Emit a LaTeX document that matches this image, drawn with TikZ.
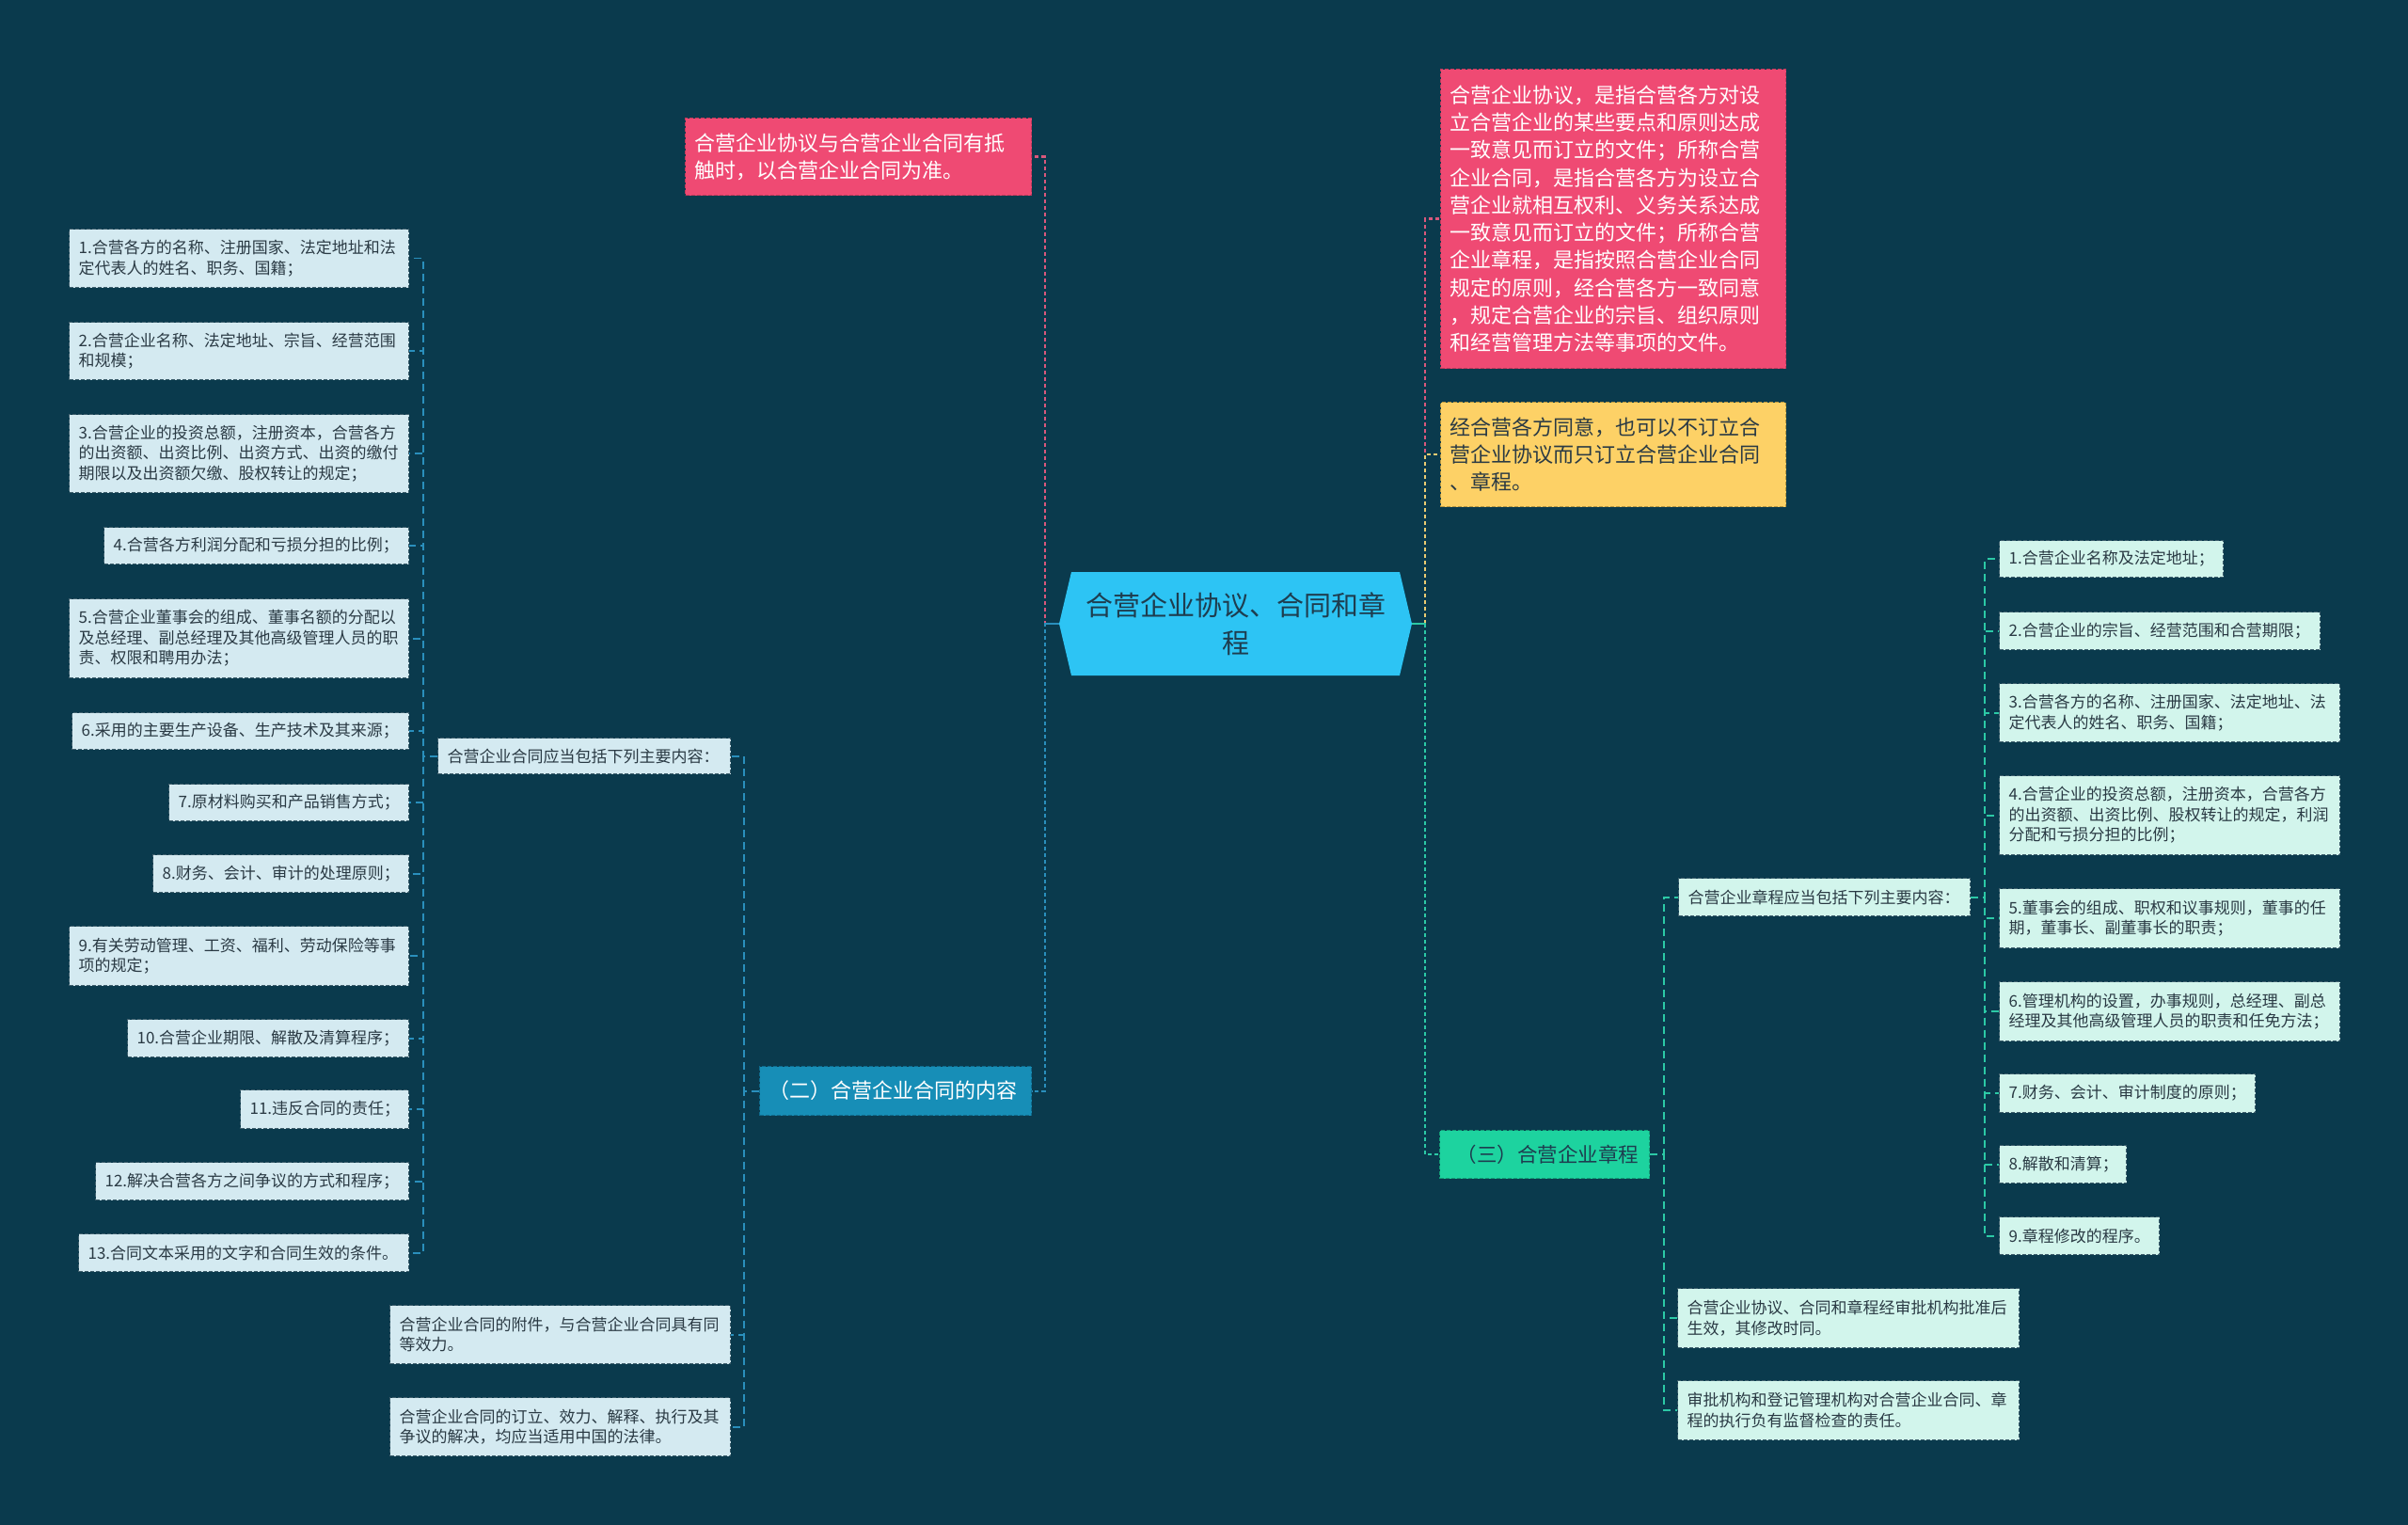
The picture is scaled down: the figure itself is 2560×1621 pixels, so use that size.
\documentclass[tikz,border=0pt]{standalone}
\usepackage{fontspec}
\setmainfont{Noto Sans CJK SC}
\definecolor{bgc}{HTML}{0A3A4D}
\definecolor{rootc}{HTML}{2DC4F4}
\definecolor{roottxt}{HTML}{1E3D4F}
\definecolor{pinkc}{HTML}{EF4A73}
\definecolor{pinkd}{HTML}{C23A5C}
\definecolor{pinkl}{HTML}{D9587C}
\definecolor{yelc}{HTML}{FDD166}
\definecolor{yeld}{HTML}{B8963E}
\definecolor{yell}{HTML}{EACB72}
\definecolor{bluec}{HTML}{178EB7}
\definecolor{blued}{HTML}{0F6A8C}
\definecolor{bluel}{HTML}{2A8FBC}
\definecolor{greenc}{HTML}{1DD39F}
\definecolor{greend}{HTML}{139C76}
\definecolor{greenl}{HTML}{2CC9A6}
\definecolor{leafL}{HTML}{D4EAF1}
\definecolor{leafR}{HTML}{D2F5EC}
\definecolor{leafd}{HTML}{3E5E6C}
\definecolor{leaftxt}{HTML}{2A3A44}
\tikzset{
  x=1pt, y=-1pt,
  basebox/.style={rectangle, inner xsep=10pt, inner ysep=0pt, align=left, dashed, dash pattern=on 4pt off 2pt, line width=1.2pt},
  pinkbox/.style={basebox, fill=pinkc, draw=pinkd, text=white, font=\fontsize{22}{29.3}\selectfont},
  yelbox/.style={basebox, fill=yelc, draw=yeld, text=leaftxt, font=\fontsize{22}{29.3}\selectfont},
  erbox/.style={basebox, fill=bluec, draw=blued, text=white, font=\fontsize{22}{26}\selectfont},
  sanbox/.style={basebox, fill=greenc, draw=greend, text=roottxt, font=\fontsize{21.5}{26}\selectfont},
  lbox/.style={basebox, fill=leafL, draw=leafd, text=leaftxt, font=\fontsize{17}{21.5}\selectfont},
  rbox/.style={basebox, fill=leafR, draw=leafd, text=leaftxt, font=\fontsize{17}{21.5}\selectfont},
  conn/.style={line width=2.2pt, dash pattern=on 4pt off 3pt},
  subconn/.style={line width=1.8pt, dash pattern=on 8pt off 5pt},
}
\newcommand\mkbox[7]{%
  \pgfmathsetmacro\bw{#5-#3}\pgfmathsetmacro\bh{#6-#4}\pgfmathsetmacro\tw{#5-#3-20}%
  \node[#1, anchor=north west, minimum width=\bw pt, minimum height=\bh pt, text width=\tw pt] (#2) at (#3,#4) {#7};}
\begin{document}
\begin{tikzpicture}
\useasboundingbox (0,0) rectangle (2560,1621);
\fill[bgc] (0,0) rectangle (2560,1621);

% root
\node[rectangle, minimum width=375pt, minimum height=110pt, inner sep=0pt, align=center,
  text=roottxt, font=\fontsize{29}{40}\selectfont,
  path picture={\fill[rootc] (path picture bounding box.west) -- ([xshift=13pt]path picture bounding box.north west) -- ([xshift=-13pt]path picture bounding box.north east) -- (path picture bounding box.east) -- ([xshift=-13pt]path picture bounding box.south east) -- ([xshift=13pt]path picture bounding box.south west) -- cycle;}]
  (root) at (1313.5,663) {合营企业协议、合同和章\\程};

% first level
\mkbox{pinkbox}{pl}{728}{125}{1096}{207}{合营企业协议与合营企业合同有抵\\触时，以合营企业合同为准。}
\mkbox{erbox}{er}{807}{1133}{1096}{1185}{（二）合营企业合同的内容}
\mkbox{pinkbox}{pr}{1531}{73}{1898}{391}{合营企业协议，是指合营各方对设\\立合营企业的某些要点和原则达成\\一致意见而订立的文件；所称合营\\企业合同，是指合营各方为设立合\\营企业就相互权利、义务关系达成\\一致意见而订立的文件；所称合营\\企业章程，是指按照合营企业合同\\规定的原则，经合营各方一致同意\\，规定合营企业的宗旨、组织原则\\和经营管理方法等事项的文件。}
\mkbox{yelbox}{yr}{1531}{427}{1898}{538}{经合营各方同意，也可以不订立合\\营企业协议而只订立合营企业合同\\、章程。}
\mkbox{sanbox}{san}{1530}{1201}{1753}{1252}{\hspace*{8pt}（三）合营企业章程}

% left second level
\mkbox{lbox}{mid}{465}{784}{776}{822}{合营企业合同应当包括下列主要内容：}
\mkbox{lbox}{la}{414}{1387}{776}{1449}{合营企业合同的附件，与合营企业合同具有同\\等效力。}
\mkbox{lbox}{lb}{414}{1485}{776}{1547}{合营企业合同的订立、效力、解释、执行及其\\争议的解决，均应当适用中国的法律。}

% left items
\mkbox{lbox}{l1}{73}{243}{434}{305}{1.合营各方的名称、注册国家、法定地址和法\\定代表人的姓名、职务、国籍；}
\mkbox{lbox}{l2}{73}{342}{434}{403}{2.合营企业名称、法定地址、宗旨、经营范围\\和规模；}
\mkbox{lbox}{l3}{73}{440}{434}{523}{3.合营企业的投资总额，注册资本，合营各方\\的出资额、出资比例、出资方式、出资的缴付\\期限以及出资额欠缴、股权转让的规定；}
\mkbox{lbox}{l4}{110}{560}{434}{599}{4.合营各方利润分配和亏损分担的比例；}
\mkbox{lbox}{l5}{73}{636}{434}{720}{5.合营企业董事会的组成、董事名额的分配以\\及总经理、副总经理及其他高级管理人员的职\\责、权限和聘用办法；}
\mkbox{lbox}{l6}{76}{757}{434}{796}{6.采用的主要生产设备、生产技术及其来源；}
\mkbox{lbox}{l7}{179}{833}{434}{872}{7.原材料购买和产品销售方式；}
\mkbox{lbox}{l8}{162}{908}{434}{948}{8.财务、会计、审计的处理原则；}
\mkbox{lbox}{l9}{73}{984}{434}{1047}{9.有关劳动管理、工资、福利、劳动保险等事\\项的规定；}
\mkbox{lbox}{l10}{135}{1083}{434}{1123}{10.合营企业期限、解散及清算程序；}
\mkbox{lbox}{l11}{255}{1158}{434}{1199}{11.违反合同的责任；}
\mkbox{lbox}{l12}{101}{1235}{434}{1275}{12.解决合营各方之间争议的方式和程序；}
\mkbox{lbox}{l13}{83}{1311}{434}{1351}{13.合同文本采用的文字和合同生效的条件。}

% right second level
\mkbox{rbox}{zc}{1784}{933}{2094}{973}{合营企业章程应当包括下列主要内容：}
\mkbox{rbox}{ra}{1783}{1369}{2146}{1432}{合营企业协议、合同和章程经审批机构批准后\\生效，其修改时同。}
\mkbox{rbox}{rb}{1783}{1467}{2146}{1530}{审批机构和登记管理机构对合营企业合同、章\\程的执行负有监督检查的责任。}

% right items
\mkbox{rbox}{r1}{2125}{574}{2363}{613}{1.合营企业名称及法定地址；}
\mkbox{rbox}{r2}{2125}{650}{2466}{690}{2.合营企业的宗旨、经营范围和合营期限；}
\mkbox{rbox}{r3}{2125}{726}{2487}{788}{3.合营各方的名称、注册国家、法定地址、法\\定代表人的姓名、职务、国籍；}
\mkbox{rbox}{r4}{2125}{824}{2487}{908}{4.合营企业的投资总额，注册资本，合营各方\\的出资额、出资比例、股权转让的规定，利润\\分配和亏损分担的比例；}
\mkbox{rbox}{r5}{2125}{944}{2487}{1007}{5.董事会的组成、职权和议事规则，董事的任\\期，董事长、副董事长的职责；}
\mkbox{rbox}{r6}{2125}{1043}{2487}{1106}{6.管理机构的设置，办事规则，总经理、副总\\经理及其他高级管理人员的职责和任免方法；}
\mkbox{rbox}{r7}{2125}{1141}{2397}{1182}{7.财务、会计、审计制度的原则；}
\mkbox{rbox}{r8}{2125}{1217}{2260}{1257}{8.解散和清算；}
\mkbox{rbox}{r9}{2125}{1293}{2295}{1333}{9.章程修改的程序。}

% connectors from root
\draw[conn, draw=pinkl] (root.west) -- ++(-15,0) |- (pl.east);
\draw[conn, draw=bluel] (root.west) -- ++(-15,0) |- (er.east);
\draw[conn, draw=pinkl] (root.east) -- ++(14,0) |- (pr.west);
\draw[conn, draw=yell] (root.east) -- ++(14,0) |- (yr.west);
\draw[conn, draw=greenl] (root.east) -- ++(14,0) |- (san.west);
\draw[line width=2.2pt, draw=bluel] (root.west) -- ++(-15,0);
\draw[line width=2.2pt, draw=greenl] (root.east) -- ++(14,0);

% left branch
\foreach \n in {mid,la,lb}
  \draw[subconn, draw=bluel] (er.west) -- ++(-16,0) |- (\n.east);
\foreach \n in {l1,l2,l3,l4,l5,l6,l7,l8,l9,l10,l11,l12,l13}
  \draw[subconn, draw=bluel] (mid.west) -- ++(-15,0) |- (\n.east);

% right branch
\foreach \n in {zc,ra,rb}
  \draw[subconn, draw=greenl] (san.east) -- ++(15,0) |- (\n.west);
\foreach \n in {r1,r2,r3,r4,r5,r6,r7,r8,r9}
  \draw[subconn, draw=greenl] (zc.east) -- ++(15,0) |- (\n.west);
\end{tikzpicture}
\end{document}
